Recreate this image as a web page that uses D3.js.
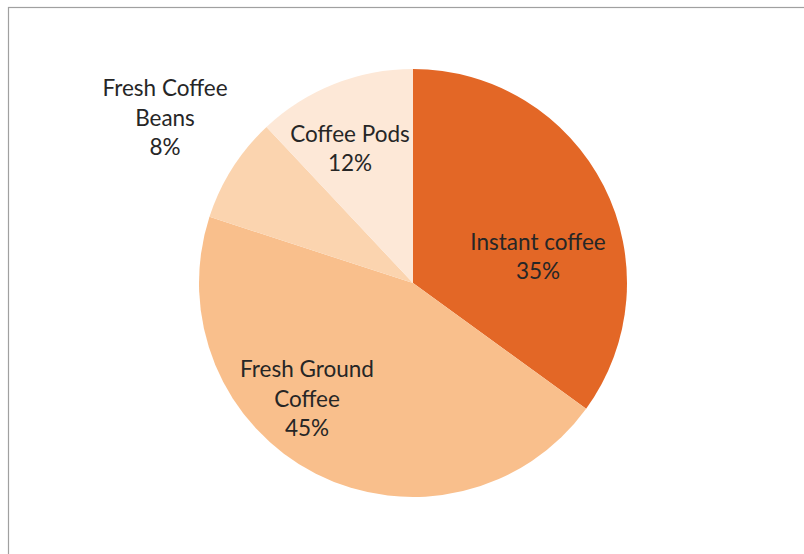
<!DOCTYPE html>
<html>
<head>
<meta charset="utf-8">
<script src="https://cdn.jsdelivr.net/npm/d3@7"></script>
<style>
  html, body { margin: 0; padding: 0; background: #fff; }
  svg { display: block; }
</style>
</head>
<body>
<svg id="chart" width="804" height="554"></svg>
<script>
// Coffee market share by product type
const categories = ["Instant coffee", "Fresh Ground Coffee", "Fresh Coffee Beans", "Coffee Pods"];
const shares = [35, 45, 8, 12];
const labelLines = [
  ["Instant coffee", "35%"],
  ["Fresh Ground", "Coffee", "45%"],
  ["Fresh Coffee", "Beans", "8%"],
  ["Coffee Pods", "12%"]
];
const sliceColors = ["#E36726", "#F9BF8C", "#FBD4AF", "#FDE8D7"];

// Layout
const W = 804, H = 554;
const cx = 413, cy = 283, radius = 214;
const lineHeight = 29.5;
// label block centres, relative to the pie centre
const labelOffsets = {
  "Instant coffee": [125, -27],
  "Fresh Ground Coffee": [-106, 115],
  "Fresh Coffee Beans": [-248, -166],
  "Coffee Pods": [-63, -135]
};

const svg = d3.select("#chart");

// outer frame (runs past the right and bottom edges)
svg.append("rect")
  .attr("x", 8.5).attr("y", 7.5)
  .attr("width", 900).attr("height", 700)
  .attr("fill", "none")
  .attr("stroke", "#a0a0a0")
  .attr("stroke-width", 1.2);

const data = categories.map((c, i) => ({ name: c, value: shares[i], lines: labelLines[i], color: sliceColors[i] }));

const pie = d3.pie().value(d => d.value).sort(null);
const arc = d3.arc().innerRadius(0).outerRadius(radius);

const g = svg.append("g").attr("transform", `translate(${cx},${cy})`);

g.selectAll("path.slice")
  .data(pie(data))
  .join("path")
  .attr("class", "slice")
  .attr("d", arc)
  .attr("fill", d => d.data.color);

const labels = g.selectAll("text.lbl")
  .data(data)
  .join("text")
  .attr("class", "lbl")
  .attr("text-anchor", "middle")
  .attr("font-family", "Lato, 'Open Sans', sans-serif")
  .attr("font-size", 22.5)
  .attr("fill", "#262626");

labels.each(function(d) {
  const [ox, oy] = labelOffsets[d.name];
  const n = d.lines.length;
  d3.select(this).selectAll("tspan")
    .data(d.lines)
    .join("tspan")
    .attr("x", ox)
    .attr("y", (t, i) => oy + (i - (n - 1) / 2) * lineHeight)
    .attr("dominant-baseline", "central")
    .text(t => t);
});
</script>
</body>
</html>
